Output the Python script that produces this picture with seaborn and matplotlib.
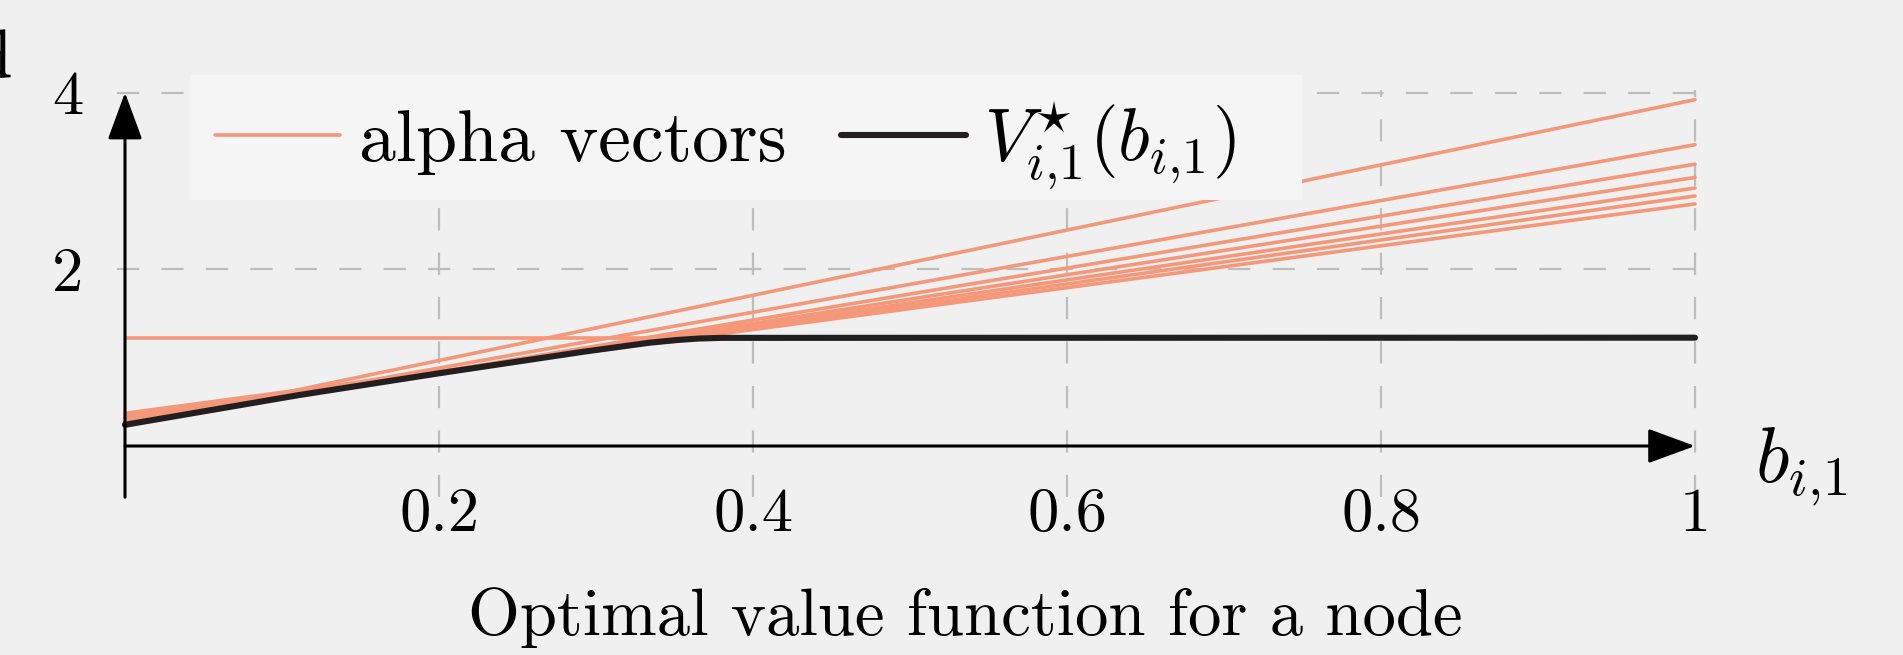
import numpy as np
import pandas as pd
import matplotlib
matplotlib.use("Agg")
import matplotlib.pyplot as plt
import seaborn as sns
from matplotlib.lines import Line2D
from matplotlib.patches import Rectangle

# ---------------- data ----------------
belief_ends = [0.0, 1.0]
alpha_at_0 = [1.226, 0.23, 0.25, 0.25, 0.285, 0.32, 0.34, 0.37]
alpha_at_1 = [1.226, 3.92, 3.41, 3.19, 3.04, 2.92, 2.83, 2.74]

vstar_belief = [0.0, 0.111, 0.2, 0.292, 0.334, 0.352, 0.365, 0.38, 1.0]
vstar_value = [0.24, 0.577, 0.823, 1.067, 1.169, 1.200, 1.216, 1.224, 1.226]

x_ticks = [0.2, 0.4, 0.6, 0.8, 1.0]
x_tick_labels = ["0.2", "0.4", "0.6", "0.8", "1"]
y_ticks = [2, 4]
y_tick_labels = ["2", "4"]

legend_labels = ["alpha vectors", r"$V^{\star}_{i{,}1}(b_{i{,}1})$"]
x_label = r"$b_{i{,}1}$"
title = "Optimal value function for a node"

# ---------------- style ----------------
sns.set_style("white")
plt.rcParams["font.family"] = ["cmr10"]
plt.rcParams["mathtext.fontset"] = "cm"
plt.rcParams["axes.unicode_minus"] = False
plt.rcParams["axes.formatter.use_mathtext"] = True
plt.rcParams["text.color"] = "black"

BG = "#f0f0f0"
ORANGE = "#f59779"
DARK = "#231f20"
GRID = "#bdbdbd"

rows = []
for k, (a, b) in enumerate(zip(alpha_at_0, alpha_at_1)):
    rows.append((k, belief_ends[0], a))
    rows.append((k, belief_ends[1], b))
df_alpha = pd.DataFrame(rows, columns=["vec", "b", "v"])
df_v = pd.DataFrame({"b": vstar_belief, "v": vstar_value})

W, H = 1903, 655
fig = plt.figure(figsize=(W / 100, H / 100), dpi=100, facecolor=BG)

xscale = 1570.0
yscale = 88.35
x0px, y0px = 125.0, 446.0
xlim = (-0.005, 1.005)
ylim = (-0.58, 4.03)
left_px = x0px + xlim[0] * xscale
right_px = x0px + xlim[1] * xscale
bottom_px = y0px - ylim[0] * yscale
top_px = y0px - ylim[1] * yscale
ax = fig.add_axes([left_px / W, 1 - bottom_px / H,
                   (right_px - left_px) / W, (bottom_px - top_px) / H])
ax.set_facecolor(BG)

sns.lineplot(data=df_alpha, x="b", y="v", units="vec", estimator=None,
             color=ORANGE, lw=2.6, ax=ax, zorder=3, legend=False)
sns.lineplot(data=df_v, x="b", y="v", color=DARK, lw=4.4, ax=ax,
             zorder=4, legend=False)

ax.set_xlim(*xlim)
ax.set_ylim(*ylim)
ax.set_xticks(x_ticks)
ax.set_xticklabels(x_tick_labels)
ax.set_yticks(y_ticks)
ax.set_yticklabels(y_tick_labels)
ax.set_xlabel("")
ax.set_ylabel("")

for s in ["top", "right"]:
    ax.spines[s].set_visible(False)
ax.spines["bottom"].set_position(("data", 0))
ax.spines["left"].set_position(("data", 0))
ax.spines["bottom"].set_visible(False)
ax.spines["left"].set_visible(False)

ax.grid(True, color=GRID, lw=1.6, linestyle=(0, (10, 10)), zorder=1)
ax.set_axisbelow(True)
ax.tick_params(direction="inout", length=20, width=1.5, color="#8a8a8a",
               labelsize=45, pad=20, labelcolor="black")

arrow_style = "-|>,head_length=0.98,head_width=0.36"
for xy, xyt in [((1, 0), (0, 0)), ((0, 4), (0, ylim[0]))]:
    ax.annotate("", xy=xy, xytext=xyt, xycoords="data",
                arrowprops=dict(arrowstyle=arrow_style, mutation_scale=30,
                                lw=2.2, color="black", shrinkA=0, shrinkB=0),
                annotation_clip=False, zorder=6)

# legend background box
ax.add_patch(Rectangle((190 / W, 1 - 200 / H), (1302 - 190) / W, 125 / H,
                       transform=fig.transFigure, facecolor="#f5f5f5",
                       edgecolor="none", clip_on=False, zorder=9))

handles = [Line2D([], [], color=ORANGE, lw=2.6),
           Line2D([], [], color=DARK, lw=4.4)]
leg = ax.legend(handles, legend_labels, loc="upper left",
                bbox_to_anchor=(215 / W, 1 - 100 / H),
                bbox_transform=fig.transFigure, ncol=2, fontsize=53,
                frameon=False, handlelength=1.7,
                handletextpad=0.25, columnspacing=0.74, borderpad=0,
                borderaxespad=0)
leg.set_zorder(10)

fig.text(1755 / W, 1 - 482 / H, x_label, fontsize=56, ha="left",
         va="baseline")
fig.text(965 / W, 1 - 635 / H, title, fontsize=48, ha="center",
         va="baseline")
fig.text(12 / W, 1 - 77 / H, "d", fontsize=50, ha="right", va="baseline")

fig.savefig("out.png", dpi=100, facecolor=BG)
